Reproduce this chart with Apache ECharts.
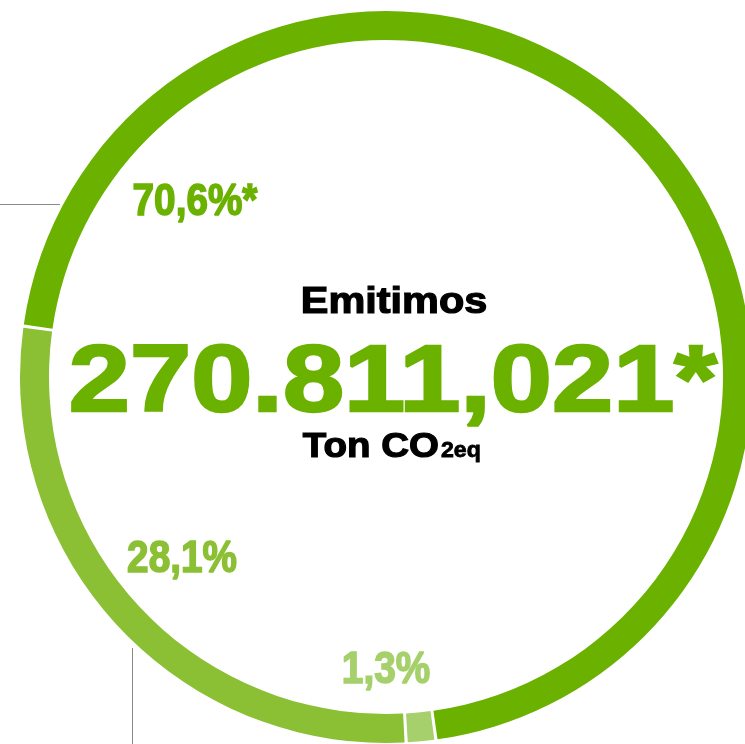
<!DOCTYPE html>
<html>
<head>
<meta charset="utf-8">
<script src="https://cdn.jsdelivr.net/npm/echarts@6/dist/echarts.min.js"></script>
<style>
html,body{margin:0;padding:0;background:#fff;}
#main{width:745px;height:744px;}
</style>
</head>
<body>
<div id="main"></div>
<script>
// Data (clockwise order as drawn)
const segmentNames = ['Segmento A', 'Segmento C', 'Segmento B'];
const segmentShares = [70.6, 1.3, 28.1];
const segmentSuffix = ['*', '', ''];
const totalLabel = 'Emitimos';
const totalValue = '270.811,021*';
const unitMain = 'Ton CO';
const unitSub = '2eq';

const colors = ['#6bb100', '#a6d06b', '#8bc034'];
const fmt = v => v.toFixed(1).replace('.', ',') + '%';

const chart = echarts.init(document.getElementById('main'), null, {renderer: 'canvas'});
const F = '"Liberation Sans", Arial, sans-serif';

function txt(x, y, text, size, color, sx, sw, align) {
  return {
    type: 'text', x: x, y: y, scaleX: sx, scaleY: 1, silent: true,
    style: {
      x: 0, y: 0, text: text, fill: color, align: align || 'center', verticalAlign: 'middle',
      font: 'bold ' + size + 'px ' + F,
      stroke: color, lineWidth: sw || 0
    }
  };
}

const labelPos = [[195, 203], [386, 671], [182, 560]];
const labelTexts = segmentShares.map((v, i) => txt(labelPos[i][0], labelPos[i][1], fmt(v) + segmentSuffix[i], 44, colors[i], 0.88, 1.6));

const option = {
  animation: false,
  series: [{
    type: 'pie',
    center: [386, 377],
    radius: [337, 366],
    startAngle: 172,
    clockwise: true,
    padAngle: 0.5,
    silent: true,
    label: {show: false},
    labelLine: {show: false},
    emphasis: {disabled: true},
    data: segmentShares.map((v, i) => ({name: segmentNames[i], value: v, itemStyle: {color: colors[i]}}))
  }],
  graphic: [
    {type: 'line', silent: true, shape: {x1: 0, y1: 204.5, x2: 60, y2: 204.5}, style: {stroke: '#8a8a8a', lineWidth: 1}},
    {type: 'line', silent: true, shape: {x1: 132.5, y1: 648, x2: 132.5, y2: 744}, style: {stroke: '#8a8a8a', lineWidth: 1}},
    txt(394, 303, totalLabel, 37, '#000', 1.12, 1.2),
    txt(393, 385, totalValue, 94, '#6bb100', 1.17, 2.4),
    txt(439, 447, unitMain, 35, '#000', 1.1, 1.2, 'right'),
    txt(441, 451, unitSub, 22, '#000', 1.05, 0.8, 'left')
  ].concat(labelTexts)
};
chart.setOption(option);
</script>
</body>
</html>
